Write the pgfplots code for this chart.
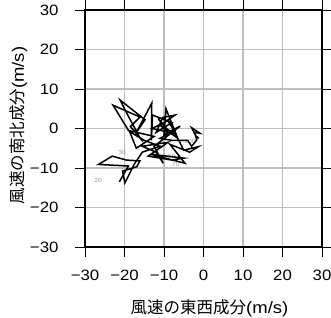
\documentclass[border=0pt]{standalone}
\usepackage{fontspec}
\setmainfont[FakeStretch=1.12]{Liberation Sans}
\newfontfamily\cjk{Noto Sans CJK JP}
\usepackage{pgfplots}
\pgfplotsset{compat=1.18}
\begin{document}
\begin{tikzpicture}
\begin{axis}[
  scale only axis, width=237bp, height=237bp,
  xmin=-30, xmax=30, ymin=-30, ymax=30,
  xtick={-30,-20,...,30}, ytick={-30,-20,...,30},
  xticklabels={−30,−20,−10,0,10,20,30},
  yticklabels={−30,−20,−10,0,10,20,30},
  tick align=outside, major tick length=10bp,
  tick style={black, line width=0.9bp},
  xtick pos=both, ytick pos=both,
  xticklabel pos=lower, yticklabel pos=left,
  ticklabel style={font=\fontsize{15bp}{17bp}\selectfont},
  yticklabel style={anchor=east, xshift=-13bp},
  xticklabel style={anchor=north, yshift=-10bp},
  grid=major, grid style={gray!50, line width=1.1bp},
  axis line style={black, line width=1.8bp},
  xlabel={\cjk 風速の東西成分\rmfamily(m/s)},
  label style={font=\fontsize{16.5bp}{19bp}\selectfont},
  xlabel style={at={(axis description cs:0.5,0)}, anchor=base, yshift=-66bp, xshift=6bp},
]
\coordinate (ll) at (rel axis cs:0,0);
\coordinate (ur) at (rel axis cs:1,1);
\coordinate (lm) at (rel axis cs:0,0.5);
\begin{scope}[every node/.style={font=\fontsize{6bp}{7bp}\selectfont, text=gray!80}]
\node at (axis cs:-26.7,-13.1) {20};
\node at (axis cs:-20.6,-6.0) {30};
\node at (axis cs:-8.0,-7.0) {50};
\node at (axis cs:-7.0,-9.0) {70};
\node at (axis cs:-3.4,-3.2) {100};
\end{scope}
\addplot[black, line width=1.5bp, line join=miter, mark=none] coordinates {
(-21.3,-13.5) (-19.0,-9.5) (-26.6,-9.1) (-23.1,-7.0) (-19.5,-8.0)
(-16.1,-8.2) (-16.9,-9.7) (-20.5,-10.8) (-19.9,-13.8) (-17.5,-9.0)
(-15.5,-6.0) (-11.0,-4.5) (-15.0,-3.0) (-18.7,-0.8) (-17.0,-5.0)
(-12.5,-2.0) (-19.0,-0.5) (-22.9,5.9) (-16.1,2.9) (-18.5,0.5)
(-16.0,-2.5) (-19.5,4.0) (-21.1,7.2) (-14.8,2.2) (-17.0,-1.0)
(-13.1,6.4) (-13.2,-3.0) (-12.9,3.4) (-8.0,1.5) (-12.0,-1.0)
(-10.3,2.8) (-7.2,3.4) (-11.0,0.8) (-6.5,-2.5) (-9.5,5.0)
(-10.0,-1.5) (-5.9,0.6) (-12.5,-4.5) (-10.2,-8.8) (-12.0,-6.0)
(-15.5,-4.5) (-9.0,-3.5) (-14.0,-7.0) (-8.0,-8.0) (-5.0,-7.5)
(-13.5,-6.5) (-4.7,-8.8) (-8.5,-4.0) (-3.5,-6.0) (-1.3,-4.6)
(-5.0,-5.5) (-7.0,-1.5) (-9.5,0.0) (-11.5,2.5) (-8.5,-1.0)
(-13.0,0.0) (-9.0,2.0) (-7.5,-0.5) (-11.0,-2.5) (-8.0,-3.0)
(-4.0,-3.0) (-3.0,-4.5)
(-1.7,-2.9) (-2.2,-1.0) (-0.9,-1.2) (-3.0,0.2) (-2.0,-1.8) (-1.2,-2.5)
};
\end{axis}
\node[rotate=90, anchor=base, font=\fontsize{16.5bp}{19bp}\selectfont]
  at ([shift={(-61bp,3bp)}]lm) {\cjk 風速の南北成分\rmfamily(m/s)};
\pgfresetboundingbox
\path[use as bounding box] ([shift={(-85bp,-71bp)}]ll) rectangle ([shift={(9bp,10bp)}]ur);
\end{tikzpicture}
\end{document}
